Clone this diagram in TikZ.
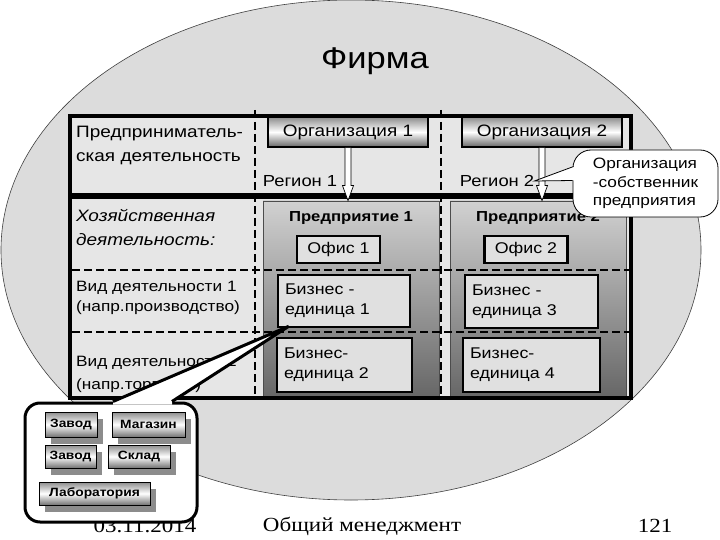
\documentclass[tikz,border=0pt]{standalone}
\usepackage{fontspec}
\setmainfont{Liberation Sans}[FakeStretch=1.15]
\newfontfamily\footfont{Liberation Serif}[FakeStretch=1.15]
\usetikzlibrary{positioning,calc,shadows}
\definecolor{firmgray}{HTML}{DCDCDC}
\definecolor{tblgray}{HTML}{E6E6E6}
\definecolor{boxgray}{HTML}{E0E0E0}

\begin{document}
\begin{tikzpicture}[x=1pt, y=-1pt,
  font=\fontsize{16.5}{24}\selectfont,
  firmln/.style={draw=black!75, line width=0.6pt, fill=firmgray},
  lbl/.style={anchor=west, align=left, inner sep=0pt},
  ent/.style={rectangle, draw=black!70, line width=0.8pt, top color=black!18,
              bottom color=black!60, minimum width=176pt, minimum height=197pt, inner sep=0pt},
  entttl/.style={font=\bfseries\fontsize{14.5}{17}\selectfont, inner sep=0pt},
  org/.style={rectangle, draw=black, line width=1.8pt, top color=black!45, bottom color=black!60,
              middle color=white, minimum width=160pt, minimum height=30pt, inner sep=0pt},
  ofc/.style={rectangle, draw=black, line width=2.6pt, fill=boxgray, minimum width=83pt,
              minimum height=27pt, inner sep=0pt, font=\fontsize{15.5}{18}\selectfont},
  bu/.style={rectangle, draw=black, line width=2.6pt, fill=boxgray, minimum height=52pt,
             inner sep=7pt, align=left, font=\fontsize{15.5}{20}\selectfont},
  dashln/.style={draw=black, line width=2.2pt, dash pattern=on 8pt off 4pt},
  frame/.style={draw=black, line width=4pt},
  blkarr/.style={draw=black, line width=0.7pt, fill=white, line join=miter},
  bubble/.style={rectangle, rounded corners=18pt, draw=black, line width=0.8pt, fill=white,
                 minimum width=145pt, minimum height=67pt, align=left, inner sep=0pt,
                 font=\fontsize{15}{18.5}\selectfont},
  callbox/.style={rectangle, rounded corners=15pt, draw=black, line width=3pt, fill=white,
                  minimum width=172pt, minimum height=119pt},
  btn/.style={rectangle, draw=black, line width=0.6pt, top color=black!45, bottom color=black!55,
              middle color=white, minimum height=24pt, inner sep=0pt,
              font=\bfseries\fontsize{12}{14}\selectfont,
              drop shadow={shadow xshift=6pt, shadow yshift=-7pt, fill=black!45, opacity=1}},
  foot/.style={font=\footfont\fontsize{20}{24}\selectfont, inner sep=0pt}
]
\useasboundingbox (0,0) rectangle (720,540);

% firm
\draw[firmln] (351,250) ellipse [x radius=350, y radius=250];
\node[font=\fontsize{30}{34}\selectfont] (firm) at (375,61) {Фирма};

% table
\fill[tblgray] (70,116) rectangle (631,398);
\node[ent] (ent1) at (351,299.5) {};
\node[ent] (ent2) at (538,299.5) {};
\node[entttl, below=11pt of ent1.north] (ttl1) {Предприятие 1};
\node[entttl, below=11pt of ent2.north] (ttl2) {Предприятие 2};

\draw[dashln] (72,270) -- (629,270);
\draw[dashln] (72,332) -- (629,332);
\draw[dashln, line width=1.8pt] (255,110) -- (255,397);
\draw[dashln, line width=1.8pt] (441,110) -- (441,397);

\draw[frame] (70,116) rectangle (631,398);
\draw[draw=black, line width=6pt] (70,196) -- (631,196);

% organisations, offices, units
\node[org] (org1) at (348,132) {Организация 1};
\node[org] (org2) at (542,132) {Организация 2};
\node[ofc] (ofc1) at (338.5,249.5) {Офис 1};
\node[ofc] (ofc2) at (526,249.5) {Офис 2};
\node[bu, text width=118pt] (bu1) at (344,301) {Бизнес -\\единица 1};
\node[bu, text width=121pt, minimum height=54pt] (bu2) at (344.5,365) {Бизнес-\\единица 2};
\node[bu, text width=119pt, minimum height=53pt] (bu3) at (531.5,301.5) {Бизнес -\\единица 3};
\node[bu, text width=123pt, minimum height=54pt] (bu4) at (531.5,365) {Бизнес-\\единица 4};

\foreach \o/\e in {org1/ent1, org2/ent2} {
  \coordinate (tp) at (\o.south |- \e.north);
  \draw[blkarr] ($(\o.south)+(-3,0)$) -- ($(tp)+(-3,-15)$) -- ($(tp)+(-5.5,-15)$) -- (tp)
    -- ($(tp)+(5.5,-15)$) -- ($(tp)+(3,-15)$) -- ($(\o.south)+(3,0)$);
}

% row labels
\node[lbl] (lblent) at (76,145) {Предприниматель-\\ская деятельность};
\node[lbl, font=\itshape\fontsize{16.5}{24}\selectfont] (lblhoz) at (76,227) {Хозяйственная\\деятельность:};
\node[lbl, font=\fontsize{15}{20}\selectfont] (lblvid1) at (76,298) {Вид деятельности 1\\(напр.производство)};
\node[lbl, font=\fontsize{15}{23}\selectfont] (lblvid2) at (76,374) {Вид деятельности 2\\(напр.торговля)};
\node[inner sep=0pt, font=\fontsize{16}{18}\selectfont] (reg1) at (300,181) {Регион 1};
\node[inner sep=0pt, font=\fontsize{16}{18}\selectfont] (reg2) at (497,181) {Регион 2};

% owner bubble
\node[bubble] (bub) at (645.5,183.5) {Организация\\-собственник\\предприятия};
\fill[white] ($(bub.west)+(3,-17)$) -- ($(bub.west)+(1,-17)$) -- (reg2.east)
  -- ($(bub.west)+(0,-3)$) -- ($(bub.west)+(3,-3)$) -- cycle;
\draw[black, line width=0.8pt] ($(bub.west)+(1,-17)$) -- (reg2.east) -- ($(bub.west)+(0,-3)$);

% footer date (under the callout)
\node[foot] (dt) at (145,526) {03.11.2014};

% units callout
\node[callbox] (cal) at (111,462.5) {};
\coordinate (tipbu) at ($(bu1.south west)+(12,-2)$);
\fill[white] ($(cal.north)+(2,3)$) -- ($(cal.north)+(2,0)$) -- (tipbu)
  -- ($(cal.north)+(61,0)$) -- ($(cal.north)+(61,3)$) -- cycle;
\draw[black, line width=3pt, line join=miter] ($(cal.north)+(2,0)$) -- (tipbu) -- ($(cal.north)+(61,0)$);

\node[btn, minimum width=52pt, minimum height=25pt] (btn1) at (71,424.5) {Завод};
\node[btn, minimum width=73pt, minimum height=25pt] (btn2) at (148.5,424.5) {Магазин};
\node[btn, minimum width=51pt, minimum height=23pt] (btn3) at (70.5,456.5) {Завод};
\node[btn, minimum width=62pt, minimum height=23pt] (btn4) at (139,456.5) {Склад};
\node[btn, minimum width=111pt, minimum height=23pt] (btn5) at (94.5,493.5) {Лаборатория};

% footer
\node[foot] (ftl) at (362,526) {Общий менеджмент};
\node[foot] (pg) at (655,526) {121};
\end{tikzpicture}
\end{document}
